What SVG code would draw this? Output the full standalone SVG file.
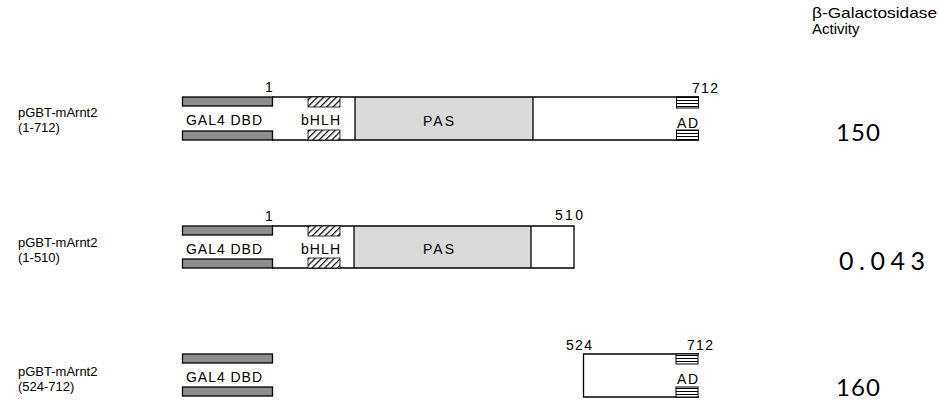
<svg xmlns="http://www.w3.org/2000/svg" width="939" height="400" viewBox="0 0 939 400">
<style>
text{font-family:"Liberation Sans",Arial,sans-serif;fill:#000}
.lbl{font-size:13px}
.in{font-size:14px}
.num{font-size:14px}
.val{font-family:Lato,"Open Sans",sans-serif;font-size:24px}
.hdr{font-size:15px}
.line{stroke:#000;stroke-width:1.3;fill:none}
.gal{fill:#8e8e8e;stroke:#000;stroke-width:1.3}
.pas{fill:#dadada;stroke:none}
.hlh{fill:url(#hatch);stroke:#000;stroke-width:0.8}
.ad{fill:url(#hstripe);stroke:#000;stroke-width:1}
</style>
<defs>
<pattern id="hatch" patternUnits="userSpaceOnUse" width="4.5" height="4.5" patternTransform="rotate(45)">
<rect width="4.5" height="4.5" fill="#fff"/>
<line x1="0" y1="0" x2="0" y2="4.5" stroke="#000" stroke-width="2.4"/>
</pattern>
<pattern id="hstripe" patternUnits="userSpaceOnUse" width="4" height="3">
<rect width="4" height="3" fill="#fff"/>
<line x1="0" y1="1.5" x2="4" y2="1.5" stroke="#000" stroke-width="1"/>
</pattern>
</defs>

<g id="header">
<text class="hdr" x="812" y="18" textLength="125" lengthAdjust="spacingAndGlyphs">β-Galactosidase</text>
<text class="hdr" x="812" y="34">Activity</text>
</g>

<g id="row1">
<text class="lbl" x="18" y="117">pGBT-mArnt2</text>
<text class="lbl" x="18" y="132">(1-712)</text>
<rect class="pas" x="355" y="97" width="178" height="43"/>
<line class="line" x1="272" y1="97" x2="699" y2="97"/>
<line class="line" x1="272" y1="140" x2="699" y2="140"/>
<line class="line" x1="355" y1="97" x2="355" y2="140"/>
<line class="line" x1="533" y1="97" x2="533" y2="140"/>
<rect class="gal" x="182.5" y="97" width="90" height="9"/>
<rect class="gal" x="182.5" y="131" width="90" height="9"/>
<rect class="hlh" x="308" y="97" width="32" height="10"/>
<rect class="hlh" x="308" y="130" width="32" height="10"/>
<rect class="ad" x="676.5" y="97" width="22" height="11"/>
<rect class="ad" x="676.5" y="130" width="22" height="10"/>
<text class="in" x="186" y="124.5" textLength="76" lengthAdjust="spacing">GAL4 DBD</text>
<text class="in" x="301" y="124.5" textLength="39" lengthAdjust="spacing">bHLH</text>
<text class="in" x="423" y="126" textLength="31" lengthAdjust="spacing">PAS</text>
<text class="in" x="677" y="128" textLength="21" lengthAdjust="spacing">AD</text>
<text class="num" x="265" y="92">1</text>
<text class="num" x="692" y="93" textLength="26" lengthAdjust="spacing">712</text>
<text class="val" x="836" y="141" textLength="44" lengthAdjust="spacing">150</text>
</g>

<g id="row2">
<text class="lbl" x="18" y="247">pGBT-mArnt2</text>
<text class="lbl" x="18" y="262">(1-510)</text>
<rect class="pas" x="354" y="226" width="177" height="42"/>
<line class="line" x1="272" y1="226" x2="574" y2="226"/>
<line class="line" x1="272" y1="268" x2="574" y2="268"/>
<line class="line" x1="354" y1="226" x2="354" y2="268"/>
<line class="line" x1="531" y1="226" x2="531" y2="268"/>
<line class="line" x1="574" y1="225.35" x2="574" y2="268.65"/>
<rect class="gal" x="182.5" y="226" width="90" height="9"/>
<rect class="gal" x="182.5" y="259" width="90" height="9"/>
<rect class="hlh" x="308" y="226" width="32" height="10"/>
<rect class="hlh" x="308" y="258" width="32" height="10"/>
<text class="in" x="186" y="254" textLength="76" lengthAdjust="spacing">GAL4 DBD</text>
<text class="in" x="301" y="254" textLength="39" lengthAdjust="spacing">bHLH</text>
<text class="in" x="423" y="254" textLength="31" lengthAdjust="spacing">PAS</text>
<text class="num" x="265" y="221">1</text>
<text class="num" x="555" y="220" textLength="28" lengthAdjust="spacing">510</text>
<text class="val" x="839" y="270" style="font-size:25px" textLength="86" lengthAdjust="spacing">0.043</text>
</g>

<g id="row3">
<text class="lbl" x="18" y="376">pGBT-mArnt2</text>
<text class="lbl" x="18" y="391">(524-712)</text>
<rect class="gal" x="182.5" y="354" width="90" height="9"/>
<rect class="gal" x="182.5" y="387" width="90" height="9"/>
<text class="in" x="186" y="382" textLength="76" lengthAdjust="spacing">GAL4 DBD</text>
<path class="line" d="M699 354 H583.5 V397 H699"/>
<rect class="ad" x="676" y="354" width="22" height="10"/>
<rect class="ad" x="676" y="387" width="22" height="10"/>
<text class="in" x="677" y="383.5" textLength="21" lengthAdjust="spacing">AD</text>
<text class="num" x="566" y="350" textLength="26" lengthAdjust="spacing">524</text>
<text class="num" x="687" y="350" textLength="26" lengthAdjust="spacing">712</text>
<text class="val" x="836" y="396" textLength="44" lengthAdjust="spacing">160</text>
</g>
</svg>
